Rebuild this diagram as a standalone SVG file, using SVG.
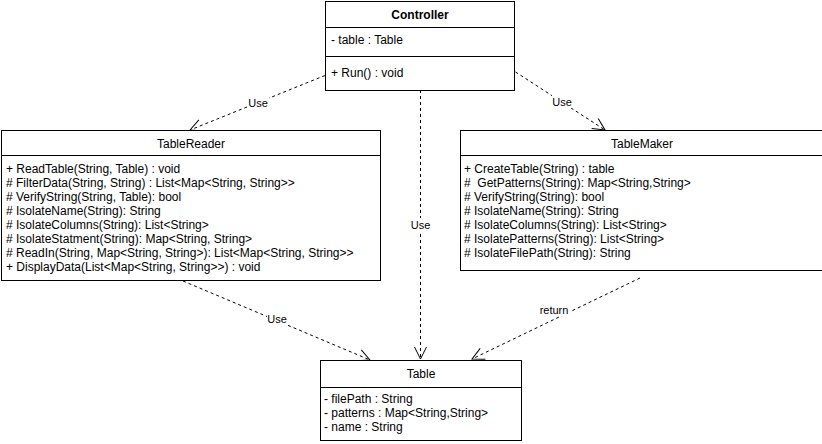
<svg xmlns="http://www.w3.org/2000/svg" width="822" height="444" viewBox="0 0 822 444">
  <style>
    .box { fill: #ffffff; stroke: #000000; stroke-width: 1; }
    .sep { stroke: #000000; stroke-width: 1; }
    text { font-family: "Liberation Sans", Arial, Helvetica, sans-serif; font-size: 12px; fill: #000000; }
    .title { text-anchor: middle; }
    .bold { font-weight: bold; }
    .edge { fill: none; stroke: #000000; stroke-width: 1; stroke-dasharray: 3 3; }
    .lbl { font-size: 11px; text-anchor: middle; }
    .lblbg { fill: #ffffff; }
  </style>
  <defs>
    <marker id="open" markerUnits="userSpaceOnUse" markerWidth="16" markerHeight="16" refX="14" refY="8" orient="auto">
      <path d="M2 2 L14 8 L2 14" fill="none" stroke="#000000" stroke-width="1"/>
    </marker>
  </defs>
  <rect width="822" height="444" fill="#ffffff"/>

  <!-- dependency connectors -->
  <g id="connectors">
    <path class="edge" d="M325 75.5 L190 130" marker-end="url(#open)"/>
    <rect class="lblbg" x="248" y="96" width="21" height="13"/>
    <text class="lbl" x="258" y="106.5">Use</text>

    <path class="edge" d="M515.5 72 L605 130" marker-end="url(#open)"/>
    <rect class="lblbg" x="552" y="95" width="21" height="13"/>
    <text class="lbl" x="562" y="105.5">Use</text>

    <path class="edge" d="M420.5 90 L420.5 359" marker-end="url(#open)"/>
    <rect class="lblbg" x="410" y="218" width="21" height="13"/>
    <text class="lbl" x="420.5" y="228.5">Use</text>

    <path class="edge" d="M183 281 L370 360" marker-end="url(#open)"/>
    <rect class="lblbg" x="267" y="312" width="21" height="13"/>
    <text class="lbl" x="277" y="322.5">Use</text>

    <path class="edge" d="M640 278 L472 359" marker-end="url(#open)"/>
    <rect class="lblbg" x="539" y="303" width="31" height="13"/>
    <text class="lbl" x="554" y="313.5">return</text>
  </g>

  <!-- Controller class -->
  <g id="controller">
    <rect class="box" x="325.5" y="1.5" width="189" height="89"/>
    <line class="sep" x1="325.5" y1="27.5" x2="514.5" y2="27.5"/>
    <line class="sep" x1="325.5" y1="56.5" x2="514.5" y2="56.5"/>
    <text class="title bold" x="420" y="19">Controller</text>
    <text x="331" y="44">- table : Table</text>
    <text x="331" y="77">+ Run() : void</text>
  </g>

  <!-- TableReader class -->
  <g id="tablereader">
    <rect class="box" x="1.5" y="130.5" width="379" height="150"/>
    <line class="sep" x1="1.5" y1="155.5" x2="380.5" y2="155.5"/>
    <text class="title" x="191" y="147.5">TableReader</text>
    <text x="6" y="173">+ ReadTable(String, Table) : void</text>
    <text x="6" y="187"># FilterData(String, String) : List&lt;Map&lt;String, String&gt;&gt;</text>
    <text x="6" y="201"># VerifyString(String, Table): bool</text>
    <text x="6" y="215"># IsolateName(String): String</text>
    <text x="6" y="229"># IsolateColumns(String): List&lt;String&gt;</text>
    <text x="6" y="243"># IsolateStatment(String): Map&lt;String, String&gt;</text>
    <text x="6" y="257"># ReadIn(String, Map&lt;String, String&gt;): List&lt;Map&lt;String, String&gt;&gt;</text>
    <text x="6" y="271">+ DisplayData(List&lt;Map&lt;String, String&gt;&gt;) : void</text>
  </g>

  <!-- TableMaker class -->
  <g id="tablemaker">
    <rect class="box" x="460.5" y="130.5" width="362" height="140"/>
    <line class="sep" x1="460.5" y1="155.5" x2="822.5" y2="155.5"/>
    <text class="title" x="642" y="147.5">TableMaker</text>
    <text x="464" y="173">+ CreateTable(String) : table</text>
    <text x="464" y="187" xml:space="preserve">#  GetPatterns(String): Map&lt;String,String&gt;</text>
    <text x="464" y="201"># VerifyString(String): bool</text>
    <text x="464" y="215"># IsolateName(String): String</text>
    <text x="464" y="229"># IsolateColumns(String): List&lt;String&gt;</text>
    <text x="464" y="243"># IsolatePatterns(String): List&lt;String&gt;</text>
    <text x="464" y="257"># IsolateFilePath(String): String</text>
  </g>

  <!-- Table class -->
  <g id="table">
    <rect class="box" x="320.5" y="360.5" width="201" height="80"/>
    <line class="sep" x1="320.5" y1="387.5" x2="521.5" y2="387.5"/>
    <text class="title" x="421" y="377.5">Table</text>
    <text x="324" y="403">- filePath : String</text>
    <text x="324" y="417">- patterns : Map&lt;String,String&gt;</text>
    <text x="324" y="431">- name : String</text>
  </g>
</svg>
